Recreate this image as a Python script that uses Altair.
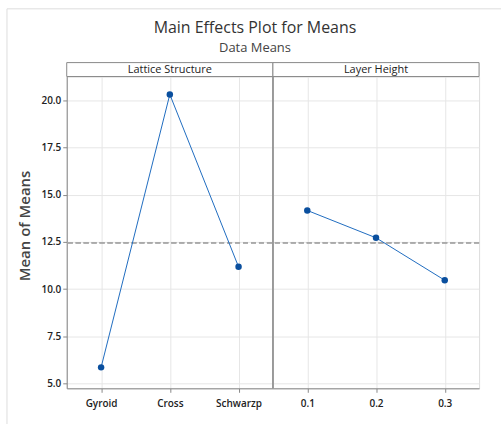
import altair as alt
import pandas as pd

lattice_levels = ["Gyroid", "Cross", "Schwarzp"]
lattice_means = [5.85, 20.32, 11.18]
layer_levels = ["0.1", "0.2", "0.3"]
layer_means = [14.17, 12.72, 10.47]
factor_names = ["Lattice Structure", "Layer Height"]
grand_mean = 12.45
y_ticks = [5.0, 7.5, 10.0, 12.5, 15.0, 17.5, 20.0]
y_domain = [4.74, 21.27]
chart_title = "Main Effects Plot for Means"
chart_subtitle = "Data Means"

FONT = "Open Sans"
W, H = 414, 313
STRIP = 14
X0, Y0 = 66, 75  # view origin in page

all_levels = lattice_levels + layer_levels
df = pd.DataFrame({
    "idx": list(range(len(all_levels))),
    "level": all_levels,
    "mean": lattice_means + layer_means,
    "factor": [factor_names[0]] * len(lattice_levels) + [factor_names[1]] * len(layer_levels),
})
n1 = len(lattice_levels)
strips = pd.DataFrame({
    "x0": [-0.5, n1 - 0.5],
    "x1": [n1 - 0.5, len(all_levels) - 0.5],
    "xc": [(n1 - 1) / 2, n1 + (len(layer_levels) - 1) / 2],
    "name": factor_names,
})

label_expr = "[" + ",".join(f"'{l}'" for l in all_levels) + "][datum.value]"
xscale = alt.Scale(domain=[-0.5, len(all_levels) - 0.5], nice=False, zero=False)
yscale = alt.Scale(domain=y_domain, nice=False, zero=False)

x = alt.X("idx:Q", scale=xscale,
          axis=alt.Axis(title=None, values=list(range(len(all_levels))), labelExpr=label_expr,
                        grid=True, gridColor="#e6e6e6", tickColor="#888", tickSize=4,
                        domainColor="#888", labelFontSize=10, labelColor="#222",
                        labelFont=FONT, labelPadding=6, labelFontWeight=600))
y = alt.Y("mean:Q", scale=yscale,
          axis=alt.Axis(values=y_ticks, format=".1f", title="Mean of Means", grid=True,
                        gridColor="#e6e6e6", tickColor="#888", tickSize=4, domainColor="#888",
                        labelFontSize=10, labelColor="#222", labelFont=FONT, labelFontWeight=600,
                        titleFont=FONT, titleFontSize=15, titleColor="#444",
                        titleFontWeight=600, titlePadding=8, titleY=(H - STRIP) / 2))

base = alt.Chart(df)
line = base.mark_line(color="#1f6cbf", strokeWidth=1).encode(x=x, y=y, detail="factor:N")
pts = base.mark_point(filled=True, shape="circle", size=42, color="#0a4f9e", opacity=1).encode(x=x, y=y)
ref = base.mark_rule(color="#aaaaaa", strokeDash=[5, 3], strokeWidth=1).encode(y=alt.datum(grand_mean))
divider = base.mark_rule(color="#999", strokeWidth=1).encode(x=alt.datum(n1 - 0.5))

sbase = alt.Chart(strips)
strip = sbase.mark_rect(fill="white", stroke="#888", strokeWidth=1).encode(
    x=alt.X("x0:Q", scale=xscale), x2="x1:Q", y=alt.value(-STRIP), y2=alt.value(0))
stext = sbase.mark_text(font=FONT, fontSize=11, color="#222", baseline="middle").encode(
    x=alt.X("xc:Q", scale=xscale), y=alt.value(-STRIP / 2), text="name:N")

one = alt.Data(values=[{"a": 1}])
frame_top = alt.Chart(one).mark_rule(color="#dddddd").encode(
    x=alt.value(6 - X0), x2=alt.value(502 - X0), y=alt.value(7 - Y0))
frame_left = alt.Chart(one).mark_rule(color="#dddddd").encode(
    x=alt.value(6 - X0), y=alt.value(7 - Y0), y2=alt.value(424 - Y0))
t1 = alt.Chart(one).mark_text(font=FONT, fontSize=16, color="#333", baseline="middle").encode(
    x=alt.value(255 - X0), y=alt.value(26 - Y0), text=alt.value(chart_title))
t2 = alt.Chart(one).mark_text(font=FONT, fontSize=13, color="#444", baseline="middle").encode(
    x=alt.value(255 - X0), y=alt.value(46 - Y0), text=alt.value(chart_subtitle))

chart = alt.layer(frame_top, frame_left, t1, t2, ref, divider, strip, stext, line, pts).properties(
    width=W, height=H,
    padding={"left": 6, "top": 7, "right": 0, "bottom": 0},
).configure_view(stroke="#888", strokeWidth=1).configure(background="white")

chart.save("out.html", embed_options={"renderer": "svg", "actions": False})
